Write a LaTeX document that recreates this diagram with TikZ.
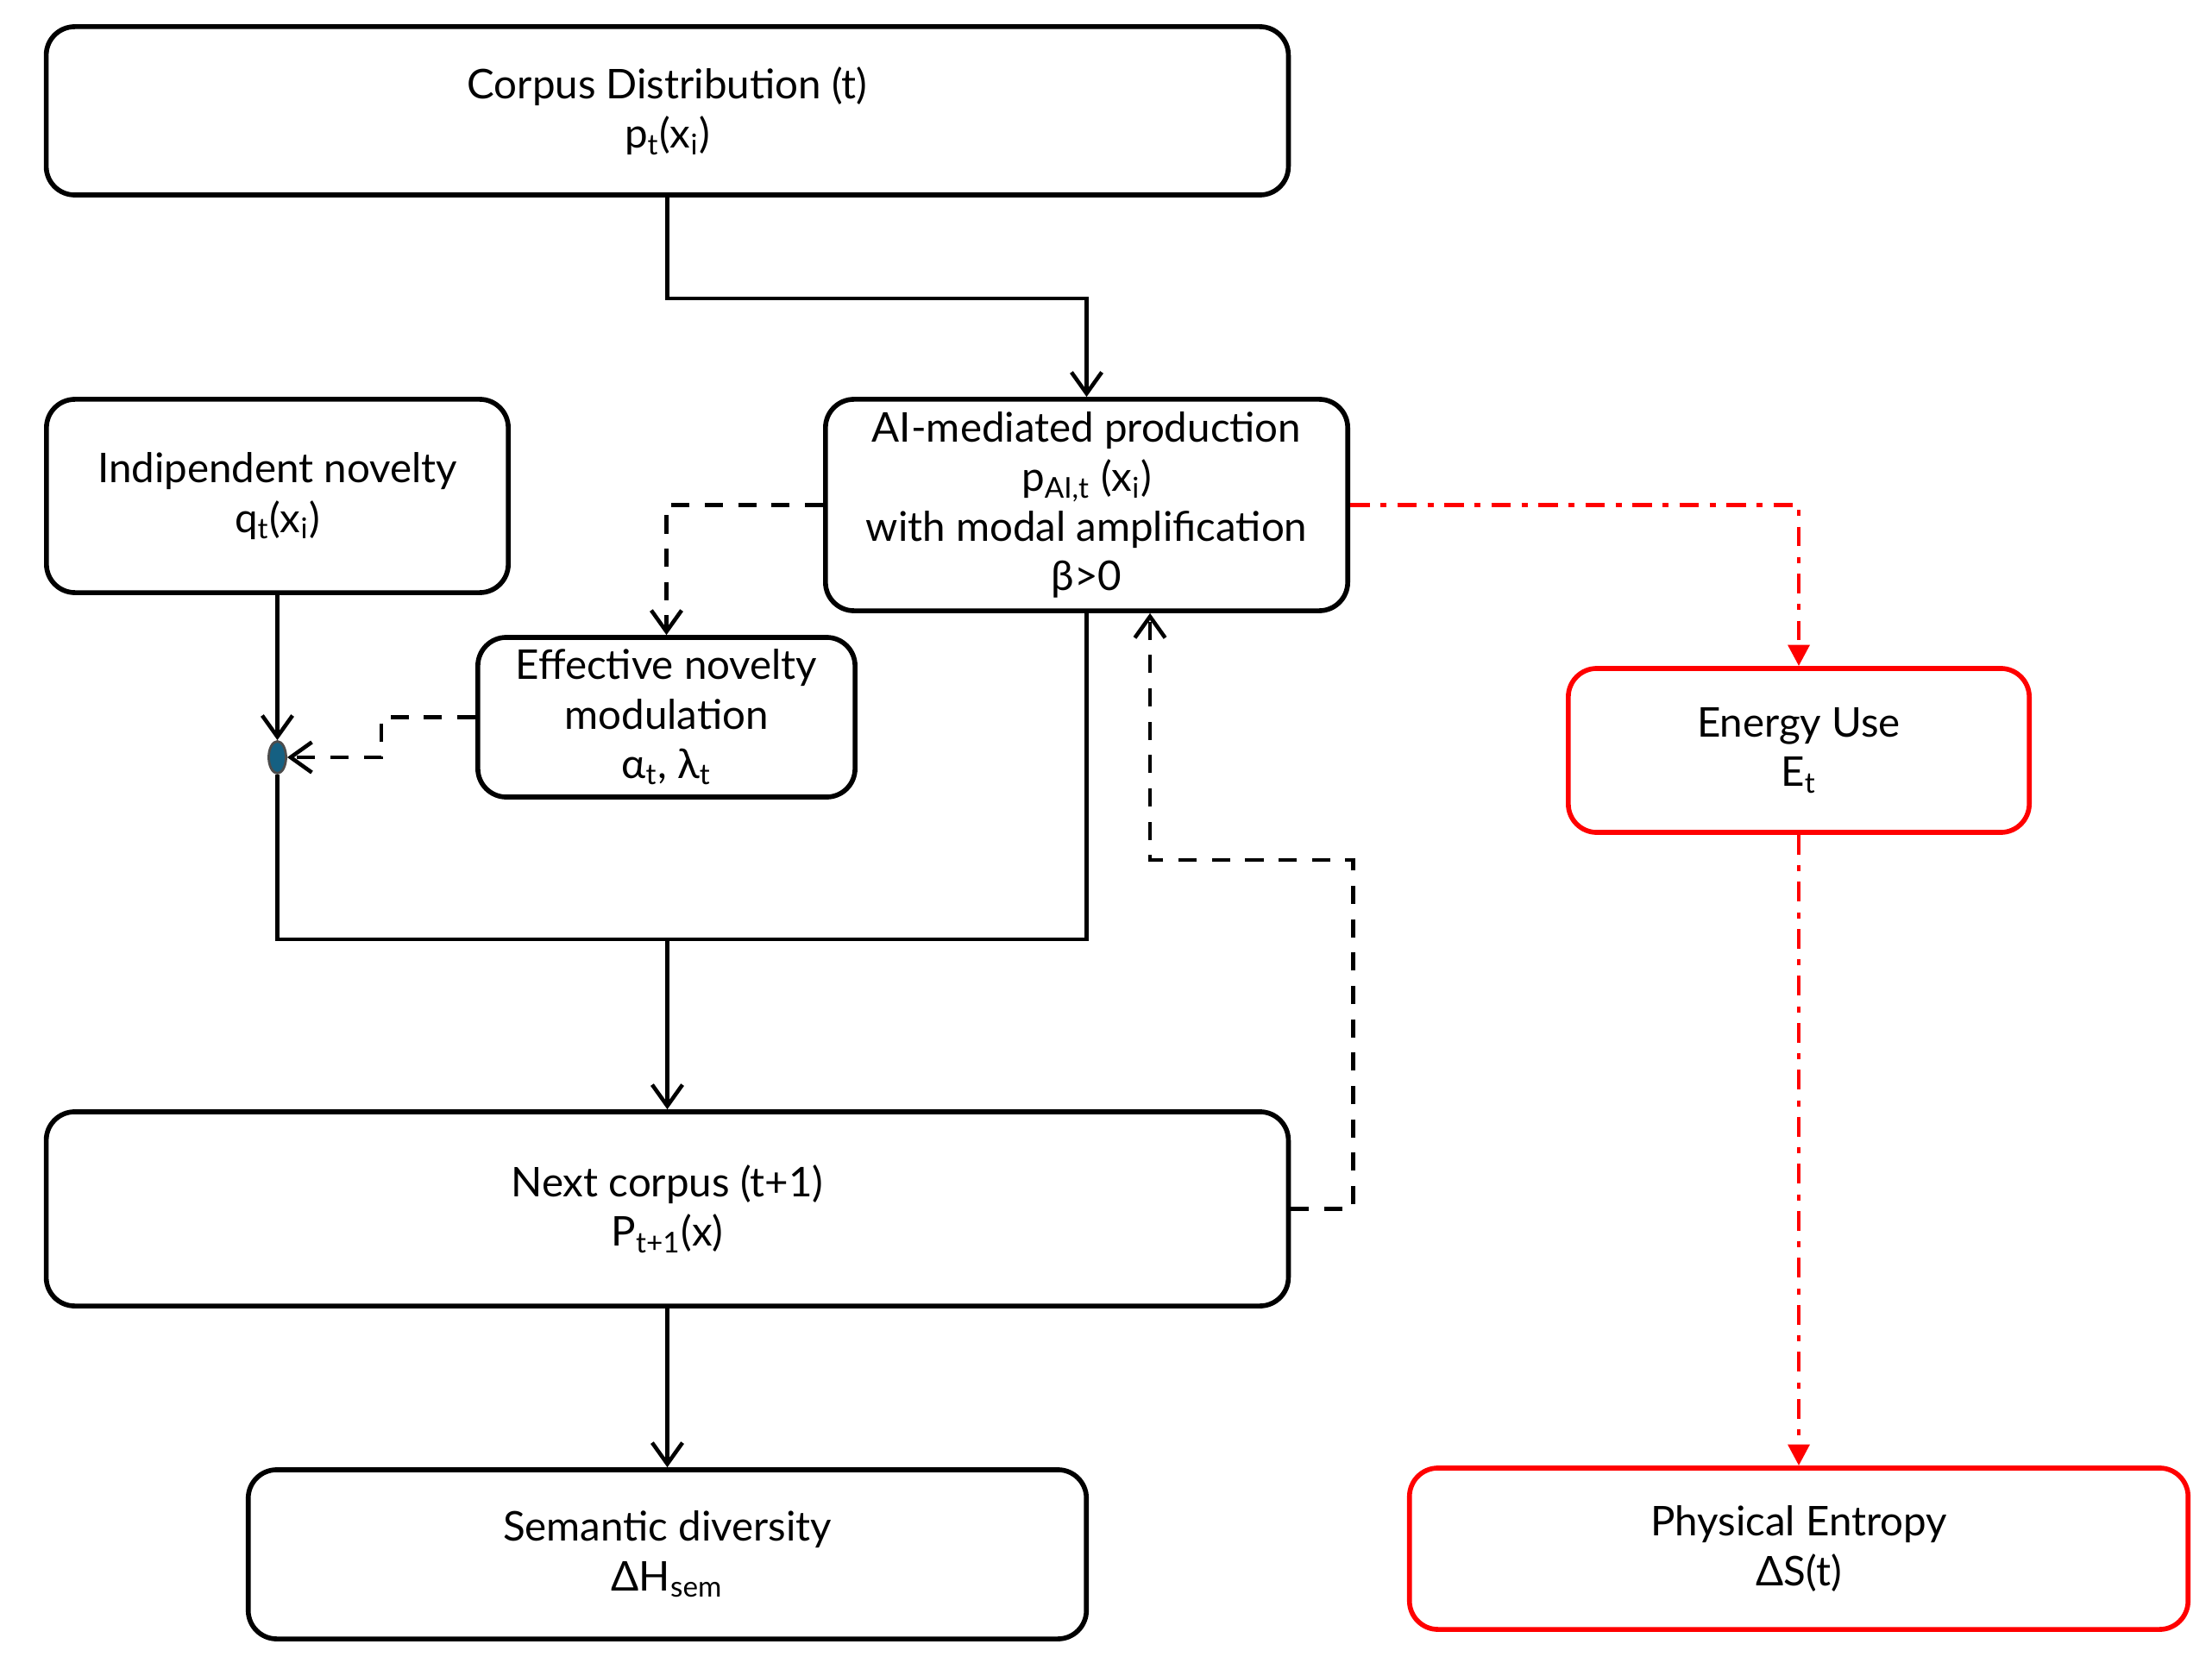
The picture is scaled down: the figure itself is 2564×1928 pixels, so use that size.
\documentclass[tikz,border=0pt]{standalone}
\usepackage{fontspec}
\setmainfont{Lato}
\usetikzlibrary{arrows.meta, shapes.geometric}
\definecolor{DotBlue}{RGB}{21, 96, 130}
\definecolor{FlowRed}{RGB}{255, 0, 0}

\begin{document}
\begin{tikzpicture}[x=0.01cm, y=-0.01cm,
    box/.style={draw, line width=1.6pt, rounded corners=0.33cm, align=center,
      font=\fontsize{13.5}{16.3}\selectfont, inner sep=0pt},
    redbox/.style={box, draw=FlowRed},
    flow/.style={line width=1.3pt, -{Straight Barb[length=7pt, width=10pt, line width=1.3pt]}},
    dflow/.style={flow, dash pattern=on 6pt off 5pt},
    rflow/.style={line width=1.4pt, FlowRed, dash pattern=on 6.5pt off 3.5pt on 2pt off 3.5pt,
      -{Triangle[length=7pt, width=7pt]}},
    plain/.style={line width=1.3pt}]
    \useasboundingbox (0,0) rectangle (2564,1928);

    % Boxes
    \node[box, minimum width=14.39cm, minimum height=1.95cm] (corpus) at (773.5,128.5)
      {Corpus Distribution (t)\\p\textsubscript{t}(x\textsubscript{i})};
    \node[box, minimum width=5.35cm, minimum height=2.24cm] (indep) at (321.5,575)
      {Indipendent novelty\\q\textsubscript{t}(x\textsubscript{i})};
    \node[box, minimum width=6.05cm, minimum height=2.45cm] (ai) at (1259.5,585.5)
      {AI-mediated production\\p\textsubscript{AI,t} (x\textsubscript{i})\\with modal amplification\\β>0};
    \node[box, minimum width=4.37cm, minimum height=1.85cm] (eff) at (772.5,831.5)
      {Effective novelty\\modulation\\α\textsubscript{t}, λ\textsubscript{t}};
    \node[redbox, minimum width=5.34cm, minimum height=1.90cm] (energy) at (2085,870)
      {Energy Use\\E\textsubscript{t}};
    \node[box, minimum width=14.39cm, minimum height=2.25cm] (next) at (773.5,1401.5)
      {Next corpus (t+1)\\P\textsubscript{t+1}(x)};
    \node[box, minimum width=9.71cm, minimum height=1.96cm] (sem) at (773.5,1802)
      {Semantic diversity\\ΔH\textsubscript{sem}};
    \node[redbox, minimum width=9.02cm, minimum height=1.87cm] (phys) at (2085,1795.5)
      {Physical Entropy\\ΔS(t)};

    % Junction dot
    \node[ellipse, draw=black!70, fill=DotBlue, line width=0.8pt, inner sep=0pt,
      minimum width=0.2cm, minimum height=0.37cm] (dot) at (321.5,878) {};

    % Connectors
    \coordinate (merge) at (773.5,1089);
    \coordinate (fb) at (1333,997);
    \draw[flow] (corpus.south) -- ++(0,117) -| (ai.north);
    \draw[flow] (indep.south) -- (dot.north);
    \draw[dflow] (ai.west) -| (eff.north);
    \draw[dflow] (eff.west) -- ++(-109,0) |- (dot.east);
    \draw[plain] (dot.south) |- (merge) -| (ai.south);
    \draw[flow] (merge) -- (next.north);
    \draw[dflow] (next.east) -- ++(72,0) |- (fb) -- (fb |- ai.south);
    \draw[flow] (next.south) -- (sem.north);

    % Energy side
    \draw[rflow] (ai.east) -| (energy.north);
    \draw[rflow] (energy.south) -- (phys.north);
\end{tikzpicture}
\end{document}
